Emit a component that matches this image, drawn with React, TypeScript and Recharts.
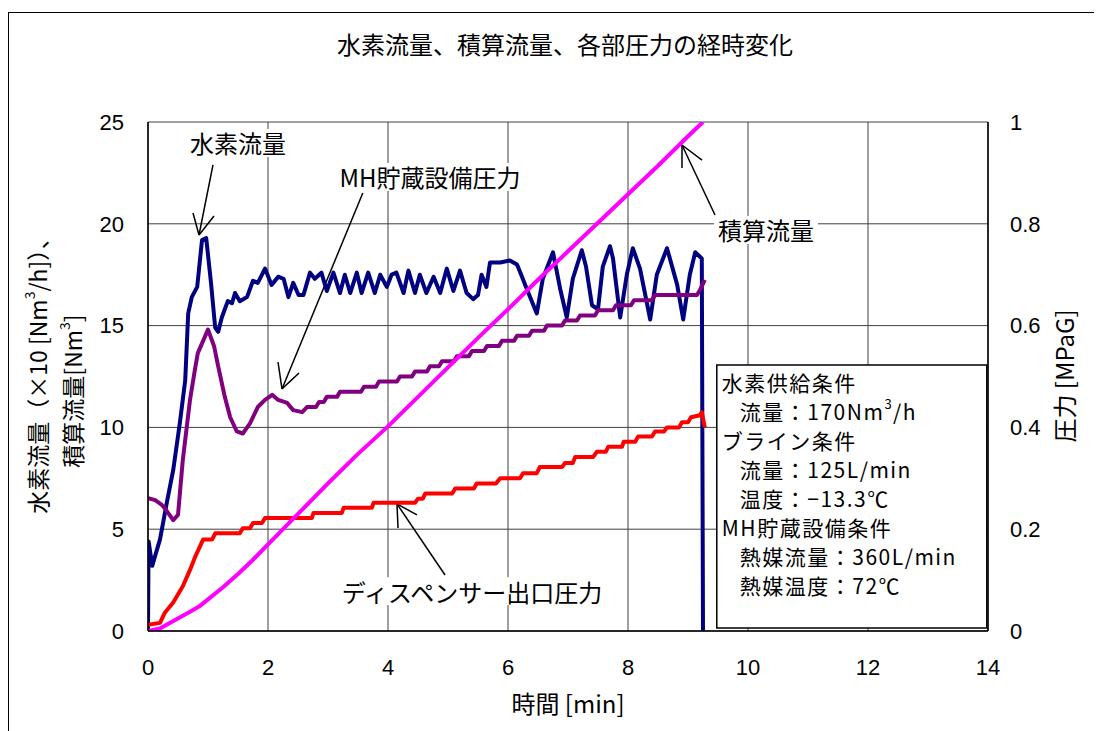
import React from "react";
import {
  LineChart,
  Line,
  XAxis,
  YAxis,
  CartesianGrid,
  ReferenceLine,
  ReferenceArea,
  ReferenceDot,
} from "recharts";

const CJK = "'Noto Sans CJK JP', 'Noto Sans CJK SC', sans-serif";
const NUM = "'Liberation Sans', Arial, sans-serif";

// axis ticks
const xTicks = [0, 2, 4, 6, 8, 10, 12, 14];
const leftTicks = [0, 5, 10, 15, 20, 25];
const rightTicks = [0, 0.2, 0.4, 0.6, 0.8, 1];

// 水素流量 (×10 Nm3/h) — left axis
const h2Time = [
  0, 0.01, 0.07, 0.2, 0.32, 0.42, 0.53, 0.62, 0.67, 0.73, 0.82, 0.9, 0.97, 1.05, 1.12, 1.17, 1.23,
  1.28, 1.33, 1.4, 1.45, 1.53, 1.65, 1.75, 1.83, 1.95, 2.06, 2.17, 2.26, 2.34, 2.42, 2.51, 2.59,
  2.7, 2.78, 2.89, 2.98, 3.09, 3.2, 3.28, 3.37, 3.48, 3.56, 3.67, 3.78, 3.87, 3.98, 4.06, 4.14,
  4.26, 4.34, 4.45, 4.53, 4.64, 4.76, 4.87, 4.98, 5.09, 5.2, 5.31, 5.42, 5.5, 5.56, 5.64, 5.7,
  5.87, 6.03, 6.15, 6.22, 6.3, 6.48, 6.58, 6.75, 6.87, 6.98, 7.08, 7.23, 7.3, 7.4, 7.5, 7.58,
  7.7, 7.75, 7.87, 7.98, 8.08, 8.2, 8.37, 8.48, 8.65, 8.82, 8.92, 9.03, 9.12, 9.23, 9.25,
];
const h2Flow = [
  0, 4.4, 3.2, 4.5, 6.4, 7.9, 10.2, 12.3, 15.6, 16.4, 16.9, 19.2, 19.3, 17.1, 14.9, 14.7, 15.4,
  15.8, 16.2, 16.1, 16.6, 16.2, 16.4, 17.2, 17.1, 17.8, 17.0, 17.4, 17.3, 16.4, 17.1, 16.5, 16.5,
  17.6, 17.3, 17.6, 16.7, 17.6, 16.6, 17.5, 16.6, 17.6, 16.6, 17.6, 16.6, 17.5, 16.9, 17.5, 17.6,
  16.6, 17.7, 16.6, 17.5, 16.6, 17.4, 16.6, 17.8, 16.7, 17.7, 16.6, 16.3, 16.5, 17.5, 16.9, 18.1,
  18.1, 18.2, 18.0, 17.5, 16.9, 15.6, 17.3, 18.6, 16.8, 15.4, 17.3, 18.7, 17.9, 16.0, 15.8, 17.9,
  18.9, 18.3, 15.4, 17.5, 18.8, 17.8, 15.3, 17.5, 18.8, 17.0, 15.3, 17.5, 18.6, 18.3, 0,
];

// MH貯蔵設備圧力 (MPaG) — right axis
const mhTime = [
  0, 0.12, 0.23, 0.3, 0.42, 0.5, 0.58, 0.7, 0.78, 0.83, 1.0, 1.1, 1.17, 1.28, 1.37, 1.48, 1.58,
  1.7, 1.83, 1.95, 2.07, 2.17, 2.32, 2.42, 2.57, 2.65, 2.8, 2.85, 2.93, 2.98, 3.15, 3.2, 3.55,
  3.6, 3.8, 3.85, 4.15, 4.2, 4.4, 4.45, 4.65, 4.7, 4.85, 4.9, 5.1, 5.15, 5.35, 5.4, 5.6, 5.65,
  5.85, 5.9, 6.1, 6.15, 6.35, 6.4, 6.6, 6.65, 6.9, 6.95, 7.15, 7.2, 7.45, 7.5, 7.75, 7.8, 8.05,
  8.1, 8.4, 8.45, 9.15, 9.2, 9.28,
];
const mhPress = [
  0.261, 0.257, 0.248, 0.238, 0.218, 0.228, 0.336, 0.454, 0.512, 0.546, 0.592, 0.56, 0.52, 0.46,
  0.42, 0.392, 0.388, 0.408, 0.44, 0.454, 0.464, 0.454, 0.448, 0.434, 0.43, 0.44, 0.44, 0.45,
  0.45, 0.46, 0.46, 0.47, 0.47, 0.48, 0.48, 0.49, 0.49, 0.5, 0.5, 0.51, 0.51, 0.52, 0.52, 0.53,
  0.53, 0.54, 0.54, 0.55, 0.55, 0.56, 0.56, 0.57, 0.57, 0.58, 0.58, 0.59, 0.59, 0.6, 0.6, 0.61,
  0.61, 0.62, 0.62, 0.63, 0.63, 0.64, 0.64, 0.65, 0.65, 0.66, 0.66, 0.67, 0.69,
];

// ディスペンサー出口圧力 (MPaG) — right axis
const dispTime = [
  0, 0.2, 0.28, 0.42, 0.58, 0.7, 0.78, 0.92, 1.07, 1.12, 1.53, 1.58, 1.7, 1.75, 1.9, 1.95, 2.73,
  2.76, 3.23, 3.26, 3.73, 3.76, 4.45, 4.5, 4.58, 4.62, 5.07, 5.12, 5.43, 5.48, 5.8, 5.87, 6.2,
  6.25, 6.48, 6.53, 6.9, 6.95, 7.08, 7.12, 7.42, 7.48, 7.63, 7.67, 7.9, 7.93, 8.12, 8.17, 8.4,
  8.45, 8.6, 8.65, 8.85, 8.9, 9.0, 9.05, 9.2, 9.23, 9.28,
];
const dispPress = [
  0.012, 0.016, 0.036, 0.056, 0.088, 0.12, 0.144, 0.18, 0.18, 0.192, 0.192, 0.202, 0.202, 0.212,
  0.212, 0.222, 0.222, 0.232, 0.232, 0.242, 0.242, 0.252, 0.252, 0.26, 0.26, 0.27, 0.27, 0.28,
  0.28, 0.29, 0.29, 0.3, 0.3, 0.31, 0.31, 0.322, 0.322, 0.33, 0.33, 0.342, 0.342, 0.352, 0.352,
  0.362, 0.362, 0.372, 0.372, 0.382, 0.382, 0.392, 0.392, 0.4, 0.4, 0.41, 0.41, 0.42, 0.424,
  0.43, 0.4,
];

// 積算流量 (Nm3) — left axis
const cumTime = [
  0, 0.2, 0.37, 0.55, 0.7, 0.85, 1.0, 1.25, 1.5, 1.75, 2.0, 2.5, 3.0, 3.5, 4.0, 4.5, 5.0, 5.5,
  6.0, 6.5, 7.0, 7.5, 8.0, 8.5, 9.0, 9.25,
];
const cumFlow = [
  0, 0.12, 0.4, 0.7, 0.95, 1.2, 1.55, 2.15, 2.8, 3.5, 4.25, 5.75, 7.25, 8.7, 10.05, 11.5, 12.95,
  14.4, 15.8, 17.25, 18.65, 20.05, 21.45, 22.85, 24.3, 25.0,
];

// annotation callouts (data coordinates on the left axis)
const noteTexts = ["水素流量", "MH貯蔵設備圧力", "積算流量", "ディスペンサー出口圧力"];
const noteX = [1.5, 4.7, 10.3, 5.4];
const noteY = [23.97, 22.3, 19.7, 1.96];
const noteW = [104, 200, 104, 262];
const arrowStart = [
  [1.083, 22.89],
  [3.58, 21.51],
  [9.45, 20.43],
  [4.95, 2.75],
];
const arrowTip = [
  [0.85, 19.45],
  [2.233, 11.89],
  [8.9, 23.87],
  [4.15, 6.24],
];
const arrowWingA = [
  [0.75, 20.53],
  [2.167, 13.21],
  [8.9, 22.74],
  [4.167, 5.06],
];
const arrowWingB = [
  [1.1, 20.38],
  [2.517, 12.67],
  [9.233, 23.13],
  [4.483, 5.7],
];

// condition box
const boxX = [9.48, 13.98];
const boxY = [0.15, 13.06];
const boxLines = [
  { text: "水素供給条件", indent: false, sup: "" },
  { text: "流量：170Nm", indent: true, sup: "3", after: "/h" },
  { text: "ブライン条件", indent: false, sup: "" },
  { text: "流量：125L/min", indent: true, sup: "" },
  { text: "温度：−13.3℃", indent: true, sup: "" },
  { text: "MH貯蔵設備条件", indent: false, sup: "" },
  { text: "熱媒流量：360L/min", indent: true, sup: "" },
  { text: "熱媒温度：72℃", indent: true, sup: "" },
];

const rows = (ts: number[], vs: number[]) => ts.map((t, i) => ({ t, v: vs[i] }));
const h2Data = rows(h2Time, h2Flow);
const mhData = rows(mhTime, mhPress);
const dispData = rows(dispTime, dispPress);
const cumData = rows(cumTime, cumFlow);

const W = 1094;
const H = 723;

const makeLabel = (text: string, w: number) => (p: any) => (
  <g>
    <rect x={p.cx - w / 2} y={p.cy - 14} width={w} height={28} fill="#fff" />
    <text
      x={p.cx}
      y={p.cy}
      textAnchor="middle"
      dominantBaseline="central"
      fontFamily={CJK}
      fontSize={24}
      fill="#000"
    >
      {text}
    </text>
  </g>
);

const boxText = (p: any) => (
  <g>
    {boxLines.map((l, i) => (
      <text
        key={i}
        x={p.cx + (l.indent ? 23 : 5)}
        y={p.cy + 17 + i * 29}
        dominantBaseline="central"
        fontFamily={CJK}
        fontSize={21}
        letterSpacing={1.5}
        fill="#000"
      >
        {l.text}
        {l.sup ? (
          <tspan dy={-8} fontSize={13}>
            {l.sup}
          </tspan>
        ) : null}
        {l.after ? <tspan dy={l.sup ? 8 : 0}>{l.after}</tspan> : null}
      </text>
    ))}
  </g>
);

const tickStyle = { fontSize: 22, fill: "#000", fontFamily: NUM };

export default function App() {
  const seg = (a: number[], b: number[], key: string) => (
    <ReferenceLine
      key={key}
      yAxisId="left"
      segment={[
        { x: a[0], y: a[1] },
        { x: b[0], y: b[1] },
      ]}
      stroke="#000"
      strokeWidth={1.5}
      ifOverflow="visible"
    />
  );
  return (
    <div style={{ position: "relative", width: W, height: H, background: "#fff" }}>
      <div
        style={{
          position: "absolute",
          left: 0,
          top: 4,
          width: W,
          height: H - 4,
          borderLeft: "1.5px solid #000",
          borderTop: "1.5px solid #000",
          boxSizing: "border-box",
        }}
      />
      <div style={{ position: "absolute", left: 0, top: 0 }}>
        <LineChart width={W} height={H} margin={{ top: 114, right: 64, bottom: 70, left: 90 }}>
          <CartesianGrid yAxisId="left" stroke="#404040" strokeWidth={1} />
          <XAxis
            type="number"
            dataKey="t"
            domain={[0, 14]}
            ticks={xTicks}
            allowDataOverflow
            height={30}
            tickSize={0}
            tickMargin={28}
            tick={tickStyle}
            axisLine={{ stroke: "#000", strokeWidth: 1.5 }}
            tickLine={false}
          />
          <YAxis
            yAxisId="left"
            type="number"
            domain={[0, 25]}
            ticks={leftTicks}
            allowDataOverflow
            width={50}
            tickSize={0}
            tickMargin={24}
            tick={tickStyle}
            axisLine={{ stroke: "#000", strokeWidth: 1.5 }}
            tickLine={false}
          />
          <YAxis
            yAxisId="right"
            orientation="right"
            type="number"
            domain={[0, 1]}
            ticks={rightTicks}
            allowDataOverflow
            width={50}
            tickSize={0}
            tickMargin={22}
            tick={tickStyle}
            tickFormatter={(v: number) => String(Math.round(v * 10) / 10)}
            axisLine={{ stroke: "#000", strokeWidth: 1.5 }}
            tickLine={false}
          />
          <ReferenceArea
            yAxisId="left"
            x1={boxX[0]}
            x2={boxX[1]}
            y1={boxY[0]}
            y2={boxY[1]}
            fill="#fff"
            fillOpacity={1}
            stroke="#000"
            strokeWidth={1.5}
            ifOverflow="visible"
          />
          <ReferenceDot
            yAxisId="left"
            x={boxX[0]}
            y={boxY[1]}
            r={0}
            shape={boxText}
            ifOverflow="visible"
          />
          {arrowStart.map((s, i) => seg(s, arrowTip[i], "a" + i))}
          {arrowTip.map((t, i) => seg(t, arrowWingA[i], "wa" + i))}
          {arrowTip.map((t, i) => seg(t, arrowWingB[i], "wb" + i))}
          {noteTexts.map((txt, i) => (
            <ReferenceDot
              key={"n" + i}
              yAxisId="left"
              x={noteX[i]}
              y={noteY[i]}
              r={0}
              shape={makeLabel(txt, noteW[i])}
              ifOverflow="visible"
            />
          ))}
          <Line
            data={h2Data}
            yAxisId="left"
            dataKey="v"
            stroke="#000080"
            strokeWidth={4}
            dot={false}
            isAnimationActive={false}
            strokeLinejoin="round"
          />
          <Line
            data={mhData}
            yAxisId="right"
            dataKey="v"
            stroke="#800080"
            strokeWidth={4}
            dot={false}
            isAnimationActive={false}
            strokeLinejoin="round"
          />
          <Line
            data={dispData}
            yAxisId="right"
            dataKey="v"
            stroke="#FF0000"
            strokeWidth={4}
            dot={false}
            isAnimationActive={false}
            strokeLinejoin="round"
          />
          <Line
            data={cumData}
            yAxisId="left"
            dataKey="v"
            stroke="#FF00FF"
            strokeWidth={4}
            dot={false}
            isAnimationActive={false}
            strokeLinejoin="round"
          />
        </LineChart>
      </div>
      <svg
        width={W}
        height={H}
        style={{ position: "absolute", left: 0, top: 0, pointerEvents: "none" }}
      >
        <text x={557} y={35} textAnchor="middle" dominantBaseline="central" fontFamily={CJK} fontSize={24} fill="#000">
          水素流量、積算流量、各部圧力の経時変化
        </text>
        <text x={560} y={694} textAnchor="middle" dominantBaseline="central" fontFamily={CJK} fontSize={24} fill="#000">
          時間 [min]
        </text>
        <text
          transform="translate(29,362) rotate(-90)"
          textAnchor="middle"
          dominantBaseline="central"
          fontFamily={CJK}
          fontSize={23}
          fill="#000"
        >
          水素流量（×10 [Nm<tspan dy={-8} fontSize={14}>3</tspan>
          <tspan dy={8}>/h]）、</tspan>
        </text>
        <text
          transform="translate(64,383) rotate(-90)"
          textAnchor="middle"
          dominantBaseline="central"
          fontFamily={CJK}
          fontSize={23}
          fill="#000"
        >
          積算流量[Nm<tspan dy={-8} fontSize={14}>3</tspan>
          <tspan dy={8}>]</tspan>
        </text>
        <text
          transform="translate(1055,368) rotate(-90)"
          textAnchor="middle"
          dominantBaseline="central"
          fontFamily={CJK}
          fontSize={24}
          fill="#000"
        >
          圧力 [MPaG]
        </text>
      </svg>
    </div>
  );
}
